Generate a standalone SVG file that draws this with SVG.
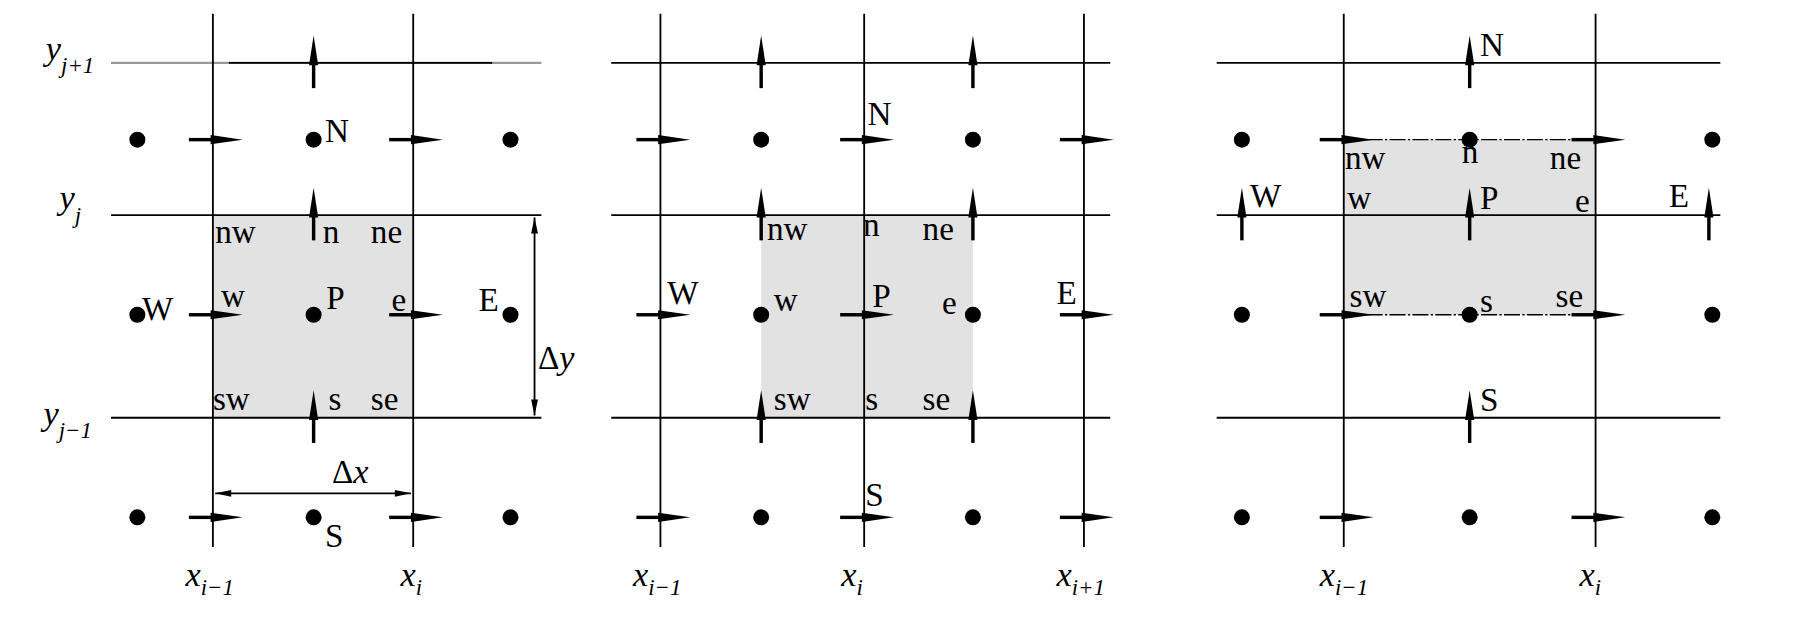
<svg xmlns="http://www.w3.org/2000/svg" xmlns:xlink="http://www.w3.org/1999/xlink" width="1797" height="622" viewBox="0 0 1797 622">
<style>
.g{stroke:#000;stroke-width:1.6;fill:none}
.box{fill:#e2e2e2;stroke:none}
.lb{font-family:"Liberation Serif",serif;font-size:29px;fill:#000}
.m{font-family:"Liberation Serif",serif;font-style:italic;font-size:30px;fill:#000}
.sb{font-size:20px}
</style>
<defs>
<g id="ha"><line x1="-21" y1="0" x2="4" y2="0" stroke="#000" stroke-width="3"/><polygon points="-2,-4 26,0 -2,4" fill="#000"/></g>
<g id="va"><line x1="0" y1="22" x2="0" y2="-4" stroke="#000" stroke-width="3"/><polygon points="-4,2 0,-24 4,2" fill="#000"/></g>
<circle id="dt" r="7" fill="#000"/>
</defs>
<rect width="1797" height="622" fill="#fff"/>
<g transform="scale(1.1446)">
<g id="panel1">
<rect class="box" x="186" y="188" width="175" height="177"/>
<g id="grid1">
<line x1="97" y1="55" x2="473" y2="55" stroke="#999" stroke-width="2"/>
<line x1="200" y1="55" x2="430" y2="55" stroke="#000" stroke-width="1.6"/>
<line class="g" x1="97" y1="188" x2="473" y2="188"/>
<line class="g" x1="97" y1="365" x2="473" y2="365"/>
<line class="g" x1="186" y1="12" x2="186" y2="478"/>
<line class="g" x1="361" y1="12" x2="361" y2="478"/>
</g>
<g id="dots1">
<use href="#dt" x="120" y="122"/><use href="#dt" x="274" y="122"/><use href="#dt" x="446" y="122"/>
<use href="#dt" x="120" y="275"/><use href="#dt" x="274" y="275"/><use href="#dt" x="446" y="275"/>
<use href="#dt" x="120" y="452"/><use href="#dt" x="274" y="452"/><use href="#dt" x="446" y="452"/>
</g>
<g id="arrows1">
<use href="#ha" x="186" y="122"/><use href="#ha" x="361" y="122"/>
<use href="#ha" x="186" y="275"/><use href="#ha" x="361" y="275"/>
<use href="#ha" x="186" y="452"/><use href="#ha" x="361" y="452"/>
<use href="#va" x="274" y="55"/><use href="#va" x="274" y="188"/><use href="#va" x="274" y="365"/>
</g>
<g id="dims1">
<line class="g" x1="467" y1="190" x2="467" y2="363"/>
<polygon points="464,204 467,190 470,204" fill="#000"/>
<polygon points="464,349 467,363 470,349" fill="#000"/>
<line class="g" x1="188" y1="431" x2="359" y2="431"/>
<polygon points="202,428 188,431 202,434" fill="#000"/>
<polygon points="345,428 359,431 345,434" fill="#000"/>
<text class="lb" x="470" y="322">Δ<tspan class="m">y</tspan></text>
<text class="lb" x="290" y="422">Δ<tspan class="m">x</tspan></text>
</g>
<g id="labels1">
<text class="lb" x="284" y="124">N</text>
<text class="lb" x="188" y="212">nw</text><text class="lb" x="282" y="212">n</text><text class="lb" x="324" y="212">ne</text>
<text class="lb" x="124" y="280">W</text><text class="lb" x="193" y="268">w</text><text class="lb" x="285" y="270">P</text><text class="lb" x="342" y="272">e</text><text class="lb" x="418" y="272">E</text>
<text class="lb" x="186" y="358">sw</text><text class="lb" x="287" y="358">s</text><text class="lb" x="324" y="358">se</text>
<text class="lb" x="284" y="478">S</text>
<text class="m" x="40" y="52">y<tspan class="sb" dy="12">j+1</tspan></text>
<text class="m" x="52" y="183">y<tspan class="sb" dy="12">j</tspan></text>
<text class="m" x="38" y="371">y<tspan class="sb" dy="12">j−1</tspan></text>
<text class="m" x="162" y="512">x<tspan class="sb" dy="8">i−1</tspan></text>
<text class="m" x="350" y="512">x<tspan class="sb" dy="8">i</tspan></text>
</g>
</g>
<g id="panel2">
<rect class="box" x="665" y="188" width="185" height="177" stroke="#000" stroke-width="1.6"/>
<g id="grid2">
<line class="g" x1="534" y1="55" x2="970" y2="55"/>
<line class="g" x1="534" y1="188" x2="970" y2="188"/>
<line class="g" x1="534" y1="365" x2="970" y2="365"/>
<line class="g" x1="577" y1="12" x2="577" y2="478"/>
<line class="g" x1="755" y1="12" x2="755" y2="478"/>
<line class="g" x1="947" y1="12" x2="947" y2="478"/>
</g>
<g id="dots2">
<use href="#dt" x="665" y="122"/><use href="#dt" x="850" y="122"/>
<use href="#dt" x="665" y="275"/><use href="#dt" x="850" y="275"/>
<use href="#dt" x="665" y="452"/><use href="#dt" x="850" y="452"/>
</g>
<g id="arrows2">
<use href="#ha" x="577" y="122"/><use href="#ha" x="755" y="122"/><use href="#ha" x="947" y="122"/>
<use href="#ha" x="577" y="275"/><use href="#ha" x="755" y="275"/><use href="#ha" x="947" y="275"/>
<use href="#ha" x="577" y="452"/><use href="#ha" x="755" y="452"/><use href="#ha" x="947" y="452"/>
<use href="#va" x="665" y="55"/><use href="#va" x="850" y="55"/>
<use href="#va" x="665" y="188"/><use href="#va" x="850" y="188"/>
<use href="#va" x="665" y="365"/><use href="#va" x="850" y="365"/>
</g>
<g id="labels2">
<text class="lb" x="758" y="109">N</text>
<text class="lb" x="670" y="210">nw</text><text class="lb" x="754" y="206">n</text><text class="lb" x="806" y="210">ne</text>
<text class="lb" x="583" y="266">W</text><text class="lb" x="676" y="272">w</text><text class="lb" x="762" y="268">P</text><text class="lb" x="823" y="274">e</text><text class="lb" x="923" y="266">E</text>
<text class="lb" x="676" y="358">sw</text><text class="lb" x="756" y="358">s</text><text class="lb" x="806" y="358">se</text>
<text class="lb" x="756" y="442">S</text>
<text class="m" x="553" y="512">x<tspan class="sb" dy="8">i−1</tspan></text>
<text class="m" x="735" y="512">x<tspan class="sb" dy="8">i</tspan></text>
<text class="m" x="923" y="512">x<tspan class="sb" dy="8">i+1</tspan></text>
</g>
</g>
<g id="panel3">
<rect class="box" x="1174" y="122" width="220" height="153"/>
<g id="grid3">
<line class="g" x1="1063" y1="55" x2="1503" y2="55"/>
<line class="g" x1="1063" y1="188" x2="1503" y2="188"/>
<line class="g" x1="1063" y1="365" x2="1503" y2="365"/>
<line class="g" x1="1174" y1="12" x2="1174" y2="478"/>
<line class="g" x1="1394" y1="12" x2="1394" y2="478"/>
<line x1="1174" y1="122" x2="1394" y2="122" stroke="#000" stroke-width="1.2" stroke-dasharray="14,2,2,2"/>
<line x1="1174" y1="275" x2="1394" y2="275" stroke="#000" stroke-width="1.2" stroke-dasharray="14,2,2,2"/>
</g>
<g id="dots3">
<use href="#dt" x="1085" y="122"/><use href="#dt" x="1284" y="122"/><use href="#dt" x="1496" y="122"/>
<use href="#dt" x="1085" y="275"/><use href="#dt" x="1284" y="275"/><use href="#dt" x="1496" y="275"/>
<use href="#dt" x="1085" y="452"/><use href="#dt" x="1284" y="452"/><use href="#dt" x="1496" y="452"/>
</g>
<g id="arrows3">
<use href="#ha" x="1174" y="122"/><use href="#ha" x="1394" y="122"/>
<use href="#ha" x="1174" y="275"/><use href="#ha" x="1394" y="275"/>
<use href="#ha" x="1174" y="452"/><use href="#ha" x="1394" y="452"/>
<use href="#va" x="1284" y="55"/><use href="#va" x="1284" y="188"/><use href="#va" x="1284" y="365"/>
<use href="#va" x="1085" y="188"/><use href="#va" x="1493" y="188"/>
</g>
<g id="labels3">
<text class="lb" x="1293" y="49">N</text>
<text class="lb" x="1175" y="148">nw</text><text class="lb" x="1277" y="142">n</text><text class="lb" x="1354" y="148">ne</text>
<text class="lb" x="1092" y="181">W</text><text class="lb" x="1177" y="183">w</text><text class="lb" x="1293" y="183">P</text><text class="lb" x="1376" y="185">e</text><text class="lb" x="1458" y="181">E</text>
<text class="lb" x="1179" y="268">sw</text><text class="lb" x="1293" y="273">s</text><text class="lb" x="1359" y="268">se</text>
<text class="lb" x="1293" y="359">S</text>
<text class="m" x="1153" y="512">x<tspan class="sb" dy="8">i−1</tspan></text>
<text class="m" x="1380" y="512">x<tspan class="sb" dy="8">i</tspan></text>
</g>
</g>
</g>
</svg>
